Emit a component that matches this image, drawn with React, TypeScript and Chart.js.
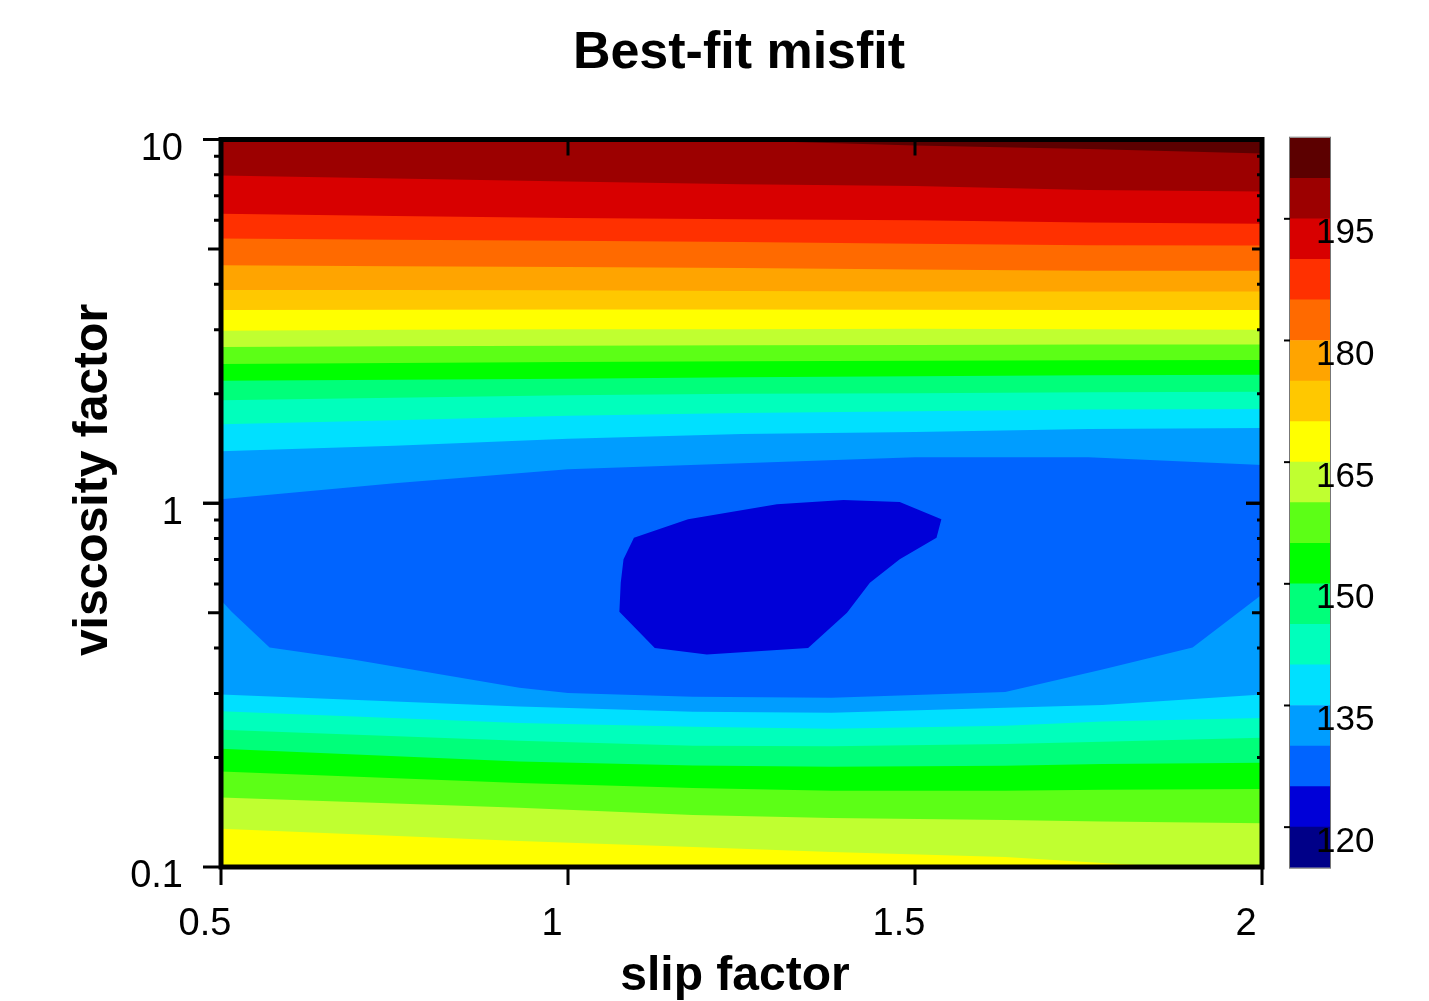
import React, { useEffect, useRef } from "react";
import { Chart, registerables } from "chart.js";

Chart.register(...registerables);

const FONT = '"Liberation Sans", Arial, Helvetica, sans-serif';

const TITLE = "Best-fit misfit";
const X_TITLE = "slip factor";
const Y_TITLE = "viscosity factor";

const X_TICKS = [0.5, 1, 1.5, 2];
const X_TICK_LABELS = ["0.5", "1", "1.5", "2"];
const Y_TICKS = [0.1, 1, 10];
const Y_TICK_LABELS = ["0.1", "1", "10"];

// colour bar: misfit levels (bands of 5) and their colours
const CB_LEVELS = [115, 120, 125, 130, 135, 140, 145, 150, 155, 160, 165, 170, 175, 180, 185, 190, 195, 200, 205];
const CB_COLORS = [
  "#000088", "#0000d8", "#0064ff", "#009dff", "#00e0ff", "#00ffbc",
  "#00ff7a", "#00ff00", "#5cff16", "#c0ff30", "#ffff00", "#ffc800",
  "#ffa400", "#ff6a00", "#ff3000", "#d80000", "#9c0000", "#5c0000",
];
const CB_TICKS = [120, 135, 150, 165, 180, 195];
const CB_TICK_LABELS = ["120", "135", "150", "165", "180", "195"];

// upper contour lines (viscosity factor where misfit crosses the level)
const SLIP_UP = [0.5, 0.75, 1.0, 1.25, 1.5, 1.75, 2.0];
const VISC_130_UP = [1.026, 1.135, 1.241, 1.289, 1.339, 1.339, 1.273];
const VISC_135_UP = [1.39, 1.44, 1.505, 1.55, 1.57, 1.6, 1.61];
const VISC_140_UP = [1.65, 1.69, 1.74, 1.77, 1.79, 1.81, 1.815];
const VISC_145_UP = [1.92, 1.95, 1.98, 2.0, 2.006, 2.02, 2.026];
const VISC_150_UP = [2.17, 2.185, 2.2, 2.22, 2.234, 2.25, 2.256];
const VISC_155_UP = [2.415, 2.43, 2.446, 2.457, 2.466, 2.474, 2.477];
const VISC_160_UP = [2.69, 2.7, 2.71, 2.72, 2.725, 2.73, 2.73];
const VISC_165_UP = [2.98, 3.0, 3.01, 3.01, 3.02, 3.01, 3.0];
const VISC_170_UP = [3.4, 3.405, 3.41, 3.41, 3.405, 3.4, 3.4];
const VISC_175_UP = [3.86, 3.855, 3.85, 3.83, 3.82, 3.82, 3.82];
const VISC_180_UP = [4.51, 4.48, 4.46, 4.43, 4.39, 4.36, 4.36];
const VISC_185_UP = [5.34, 5.3, 5.27, 5.23, 5.17, 5.12, 5.11];
const VISC_190_UP = [6.25, 6.16, 6.08, 6.04, 6.0, 5.91, 5.87];
const VISC_195_UP = [7.96, 7.81, 7.66, 7.53, 7.45, 7.26, 7.19];
const VISC_200_UP = [10.86, 10.59, 10.32, 9.94, 9.63, 9.42, 9.15];

// lower contour lines
const SLIP_LOW = [0.5, 0.93, 1.18, 1.38, 1.63, 1.77, 2.0];
const VISC_135_LOW = [0.298, 0.276, 0.267, 0.2655, 0.274, 0.279, 0.298];
const VISC_140_LOW = [0.268, 0.249, 0.243, 0.24, 0.2445, 0.251, 0.257];
const VISC_145_LOW = [0.2384, 0.2225, 0.2155, 0.2148, 0.218, 0.221, 0.2267];
const VISC_150_LOW = [0.2114, 0.195, 0.19, 0.1886, 0.1898, 0.192, 0.1935];
const VISC_155_LOW = [0.1829, 0.1703, 0.165, 0.162, 0.162, 0.163, 0.1638];
const VISC_160_LOW = [0.1552, 0.1454, 0.139, 0.1364, 0.1347, 0.1333, 0.1319];
const VISC_165_LOW = [0.1273, 0.1179, 0.1135, 0.11, 0.1065, 0.1026, 0.097];

// 130 lower contour (irregular)
const SLIP_130_LOW = [0.5, 0.515, 0.57, 0.69, 0.93, 1.0, 1.18, 1.38, 1.63, 1.77, 1.9, 2.0];
const VISC_130_LOW = [0.541, 0.504, 0.401, 0.372, 0.311, 0.301, 0.294, 0.292, 0.303, 0.349, 0.401, 0.561];

// closed 125 contour (minimum region)
const SLIP_125 = [1.095, 1.173, 1.301, 1.397, 1.478, 1.538, 1.531, 1.478, 1.435, 1.402, 1.346, 1.2, 1.125, 1.074, 1.076, 1.08, 1.095];
const VISC_125 = [0.804, 0.903, 0.994, 1.021, 1.008, 0.903, 0.804, 0.701, 0.605, 0.5, 0.4, 0.384, 0.4, 0.503, 0.605, 0.701, 0.804];

const UPPER_LINES = [
  { level: 130, visc: VISC_130_UP }, { level: 135, visc: VISC_135_UP },
  { level: 140, visc: VISC_140_UP }, { level: 145, visc: VISC_145_UP },
  { level: 150, visc: VISC_150_UP }, { level: 155, visc: VISC_155_UP },
  { level: 160, visc: VISC_160_UP }, { level: 165, visc: VISC_165_UP },
  { level: 170, visc: VISC_170_UP }, { level: 175, visc: VISC_175_UP },
  { level: 180, visc: VISC_180_UP }, { level: 185, visc: VISC_185_UP },
  { level: 190, visc: VISC_190_UP }, { level: 195, visc: VISC_195_UP },
  { level: 200, visc: VISC_200_UP },
];
const LOWER_LINES = [
  { level: 130, slip: SLIP_130_LOW, visc: VISC_130_LOW },
  { level: 135, slip: SLIP_LOW, visc: VISC_135_LOW },
  { level: 140, slip: SLIP_LOW, visc: VISC_140_LOW },
  { level: 145, slip: SLIP_LOW, visc: VISC_145_LOW },
  { level: 150, slip: SLIP_LOW, visc: VISC_150_LOW },
  { level: 155, slip: SLIP_LOW, visc: VISC_155_LOW },
  { level: 160, slip: SLIP_LOW, visc: VISC_160_LOW },
  { level: 165, slip: SLIP_LOW, visc: VISC_165_LOW },
];

const toPts = (xs: number[], ys: number[]) => xs.map((x, i) => ({ x, y: ys[i] }));
const colorFor = (lvl: number) => CB_COLORS[Math.round((lvl - CB_LEVELS[0]) / 5)];

const common = {
  borderWidth: 0,
  borderColor: "transparent",
  pointRadius: 0,
  pointHoverRadius: 0,
  tension: 0,
};

const mainDecor = {
  id: "mainDecor",
  afterDraw(chart: any) {
    const ctx = chart.ctx;
    const { left, right, top, bottom } = chart.chartArea;
    const xs = chart.scales.x;
    const ys = chart.scales.y;
    ctx.save();
    ctx.strokeStyle = "#000";
    ctx.lineCap = "butt";
    ctx.lineWidth = 3;
    for (const dec of [0.1, 1]) {
      for (let k = 1; k <= 10; k++) {
        const v = dec * k;
        const p = ys.getPixelForValue(v);
        const major = k === 1 || k === 10;
        const mid = k === 5;
        const lo = major ? 18 : mid ? 13 : 7;
        const li = major ? 16 : mid ? 10 : 5;
        ctx.beginPath();
        ctx.moveTo(left - lo, p);
        ctx.lineTo(left, p);
        ctx.moveTo(right, p);
        ctx.lineTo(right - li, p);
        ctx.stroke();
      }
    }
    for (const v of X_TICKS) {
      const p = xs.getPixelForValue(v);
      ctx.beginPath();
      ctx.moveTo(p, bottom);
      ctx.lineTo(p, bottom + 18);
      ctx.moveTo(p, top);
      ctx.lineTo(p, top + 16);
      ctx.stroke();
    }
    ctx.lineWidth = 5;
    ctx.strokeRect(left, top, right - left, bottom - top);

    ctx.fillStyle = "#000";
    ctx.textAlign = "center";
    ctx.textBaseline = "alphabetic";
    ctx.font = `bold 52px ${FONT}`;
    ctx.fillText(TITLE, 739, 68);
    ctx.font = `bold 48px ${FONT}`;
    ctx.fillText(X_TITLE, 735, 990);
    ctx.translate(107, 480);
    ctx.rotate(-Math.PI / 2);
    ctx.fillText(Y_TITLE, 0, 0);
    ctx.restore();
  },
};

const cbDecor = {
  id: "cbDecor",
  afterDatasetsDraw(chart: any) {
    const ctx = chart.ctx;
    const { left, right, top, bottom } = chart.chartArea;
    const ys = chart.scales.y;
    ctx.save();
    ctx.strokeStyle = "#777";
    ctx.lineWidth = 1;
    ctx.strokeRect(left - 0.5, top - 0.5, right - left + 1, bottom - top + 1);
    ctx.strokeStyle = "#000";
    ctx.lineWidth = 2;
    for (const v of CB_TICKS) {
      const p = ys.getPixelForValue(v);
      ctx.beginPath();
      ctx.moveTo(left - 6, p);
      ctx.lineTo(left, p);
      ctx.stroke();
    }
    ctx.restore();
  },
};

export default function App() {
  const mainRef = useRef<HTMLCanvasElement>(null);
  const cbRef = useRef<HTMLCanvasElement>(null);

  useEffect(() => {
    const datasets: any[] = [];
    datasets.push({ ...common, data: toPts(SLIP_125, VISC_125), fill: "shape", backgroundColor: colorFor(120) });
    [...UPPER_LINES]
      .sort((a, b) => b.level - a.level)
      .forEach((l) => datasets.push({ ...common, data: toPts(SLIP_UP, l.visc), fill: "end", backgroundColor: colorFor(l.level) }));
    [...LOWER_LINES]
      .sort((a, b) => b.level - a.level)
      .forEach((l) => datasets.push({ ...common, data: toPts(l.slip, l.visc), fill: "start", backgroundColor: colorFor(l.level) }));
    datasets.push({ ...common, data: toPts([0.5, 2], [10, 10]), fill: "start", backgroundColor: colorFor(125) });

    const main = new Chart(mainRef.current as HTMLCanvasElement, {
      type: "line",
      data: { datasets },
      options: {
        responsive: false,
        animation: false,
        events: [],
        layout: { padding: { left: 0, right: 167, top: 139.5, bottom: 0 } },
        plugins: { legend: { display: false }, tooltip: { enabled: false }, title: { display: false } },
        scales: {
          x: {
            type: "linear",
            min: 0.5,
            max: 2,
            grid: { display: false, drawTicks: false },
            border: { display: false },
            afterBuildTicks: (s: any) => {
              s.ticks = X_TICKS.map((v) => ({ value: v }));
            },
            afterFit: (s: any) => {
              s.height = 134;
            },
            ticks: {
              autoSkip: false,
              maxRotation: 0,
              minRotation: 0,
              padding: 35,
              labelOffset: -16,
              color: "#000",
              font: { family: FONT, size: 38 },
              callback: (_v: any, i: number) => X_TICK_LABELS[i],
            },
          },
          y: {
            type: "logarithmic",
            min: 0.1,
            max: 10,
            grid: { display: false, drawTicks: false },
            border: { display: false },
            afterBuildTicks: (s: any) => {
              s.ticks = Y_TICKS.map((v) => ({ value: v }));
            },
            afterFit: (s: any) => {
              s.width = 221;
            },
            ticks: {
              autoSkip: false,
              padding: 38,
              labelOffset: 10,
              color: "#000",
              font: { family: FONT, size: 38 },
              callback: (_v: any, i: number) => Y_TICK_LABELS[i],
            },
          },
        },
      } as any,
      plugins: [mainDecor],
    });

    const cb = new Chart(cbRef.current as HTMLCanvasElement, {
      type: "bar",
      data: {
        labels: [""],
        datasets: CB_COLORS.map((c, i) => ({
          data: [[CB_LEVELS[i], CB_LEVELS[i + 1]]],
          backgroundColor: c,
          borderWidth: 0,
          grouped: false,
          barPercentage: 1,
          categoryPercentage: 1,
        })) as any,
      },
      options: {
        responsive: false,
        animation: false,
        events: [],
        layout: { padding: { left: 40, right: 99, top: 137.7, bottom: 133.3 } },
        plugins: { legend: { display: false }, tooltip: { enabled: false } },
        scales: {
          x: { display: false },
          y: {
            position: "left",
            min: 115,
            max: 205,
            grid: { display: false, drawTicks: false },
            border: { display: false },
            afterBuildTicks: (s: any) => {
              s.ticks = CB_TICKS.map((v) => ({ value: v }));
            },
            afterFit: (s: any) => {
              s.width = 10;
            },
            ticks: {
              z: 1,
              mirror: true,
              autoSkip: false,
              padding: 26,
              labelOffset: 15,
              color: "#000",
              font: { family: FONT, size: 35 },
              callback: (_v: any, i: number) => CB_TICK_LABELS[i],
            },
          },
        },
      } as any,
      plugins: [cbDecor],
    });

    return () => {
      main.destroy();
      cb.destroy();
    };
  }, []);

  return (
    <div style={{ position: "absolute", left: 0, top: 0, width: 1429, height: 1001, background: "#fff" }}>
      <canvas ref={mainRef} width={1429} height={1001} style={{ position: "absolute", left: 0, top: 0, width: 1429, height: 1001 }} />
      <canvas ref={cbRef} width={189} height={1001} style={{ position: "absolute", left: 1240, top: 0, width: 189, height: 1001 }} />
    </div>
  );
}
